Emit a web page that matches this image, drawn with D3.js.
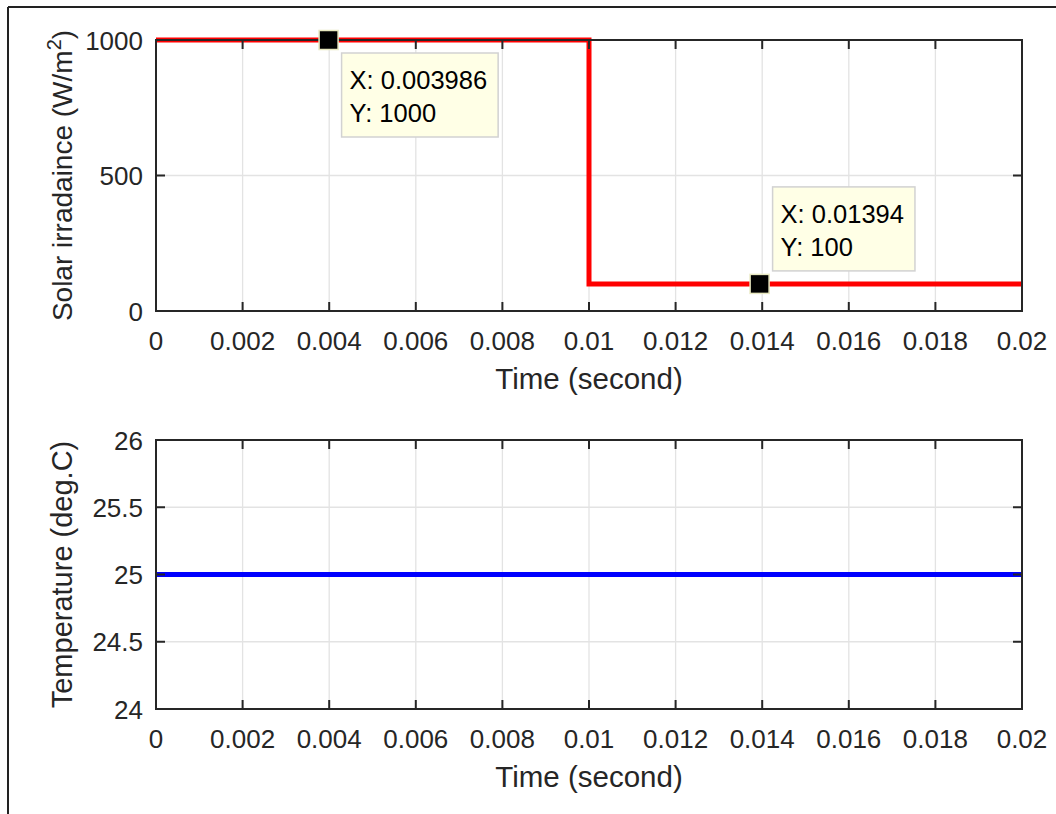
<!DOCTYPE html>
<html>
  <head>
    <meta charset="utf-8">
    <title>Irradiance and temperature</title>
    <script src="https://cdn.jsdelivr.net/npm/d3@7/dist/d3.min.js"></script>
    <style>
      body { margin: 0; background: #fff; }
      text { font-family: 'Liberation Sans', Arial, sans-serif; fill: #262626; }
    </style>
  </head>
  <body>
    <svg width="1056" height="814"></svg>
    <script>
      // data
      const timeTicks = [0, 0.002, 0.004, 0.006, 0.008, 0.01, 0.012, 0.014, 0.016, 0.018, 0.02];
      const irrTicks = [0, 500, 1000];
      const tempTicks = [24, 24.5, 25, 25.5, 26];
      const irrTime = [0, 0.01, 0.01, 0.02];
      const irrValue = [1000, 1000, 100, 100];
      const tempTime = [0, 0.02];
      const tempValue = [25, 25];
      const tipX = [0.003986, 0.01394];
      const tipY = [1000, 100];
      const tipLabelX = ['X: 0.003986', 'X: 0.01394'];
      const tipLabelY = ['Y: 1000', 'Y: 100'];

      const svg = d3.select('svg');

      // frame (cropped figure border)
      svg.append('line').attr('x1', 8).attr('x2', 1056).attr('y1', 7).attr('y2', 7)
        .attr('stroke', '#222').attr('stroke-width', 2);
      svg.append('line').attr('x1', 8).attr('x2', 8).attr('y1', 7).attr('y2', 814)
        .attr('stroke', '#222').attr('stroke-width', 2);

      const left = 156, right = 1022;
      const x = d3.scaleLinear().domain([0, 0.02]).range([left, right]);
      const fmt = v => String(+v.toFixed(4));

      function panel(top, bottom, yDomain, yTicks, opts) {
        const y = d3.scaleLinear().domain(yDomain).range([bottom, top]);
        const g = svg.append('g');

        // grid
        g.selectAll('.gx').data(timeTicks).enter().append('line')
          .attr('x1', d => x(d)).attr('x2', d => x(d))
          .attr('y1', top).attr('y2', bottom)
          .attr('stroke', '#e3e3e3').attr('stroke-width', 1.3);
        g.selectAll('.gy').data(yTicks).enter().append('line')
          .attr('x1', left).attr('x2', right)
          .attr('y1', d => y(d)).attr('y2', d => y(d))
          .attr('stroke', '#e3e3e3').attr('stroke-width', 1.3);

        // series
        const line = d3.line().x(d => x(d[0])).y(d => y(d[1]));
        g.append('path')
          .datum(opts.t.map((t, i) => [t, opts.v[i]]))
          .attr('d', line)
          .attr('fill', 'none')
          .attr('stroke', opts.color)
          .attr('stroke-width', 5);

        // ticks inward on all four sides
        const tl = 9;
        g.selectAll('.tb').data(timeTicks).enter().append('line')
          .attr('x1', d => x(d)).attr('x2', d => x(d))
          .attr('y1', bottom).attr('y2', bottom - tl)
          .attr('stroke', '#262626').attr('stroke-width', 2);
        g.selectAll('.tt').data(timeTicks).enter().append('line')
          .attr('x1', d => x(d)).attr('x2', d => x(d))
          .attr('y1', top).attr('y2', top + tl)
          .attr('stroke', '#262626').attr('stroke-width', 2);
        g.selectAll('.tlft').data(yTicks).enter().append('line')
          .attr('x1', left).attr('x2', left + tl)
          .attr('y1', d => y(d)).attr('y2', d => y(d))
          .attr('stroke', '#262626').attr('stroke-width', 2);
        g.selectAll('.trt').data(yTicks).enter().append('line')
          .attr('x1', right).attr('x2', right - tl)
          .attr('y1', d => y(d)).attr('y2', d => y(d))
          .attr('stroke', '#262626').attr('stroke-width', 2);

        // box
        g.append('rect')
          .attr('x', left).attr('y', top)
          .attr('width', right - left).attr('height', bottom - top)
          .attr('fill', 'none').attr('stroke', '#262626').attr('stroke-width', 2);

        // tick labels
        g.selectAll('.lx').data(timeTicks).enter().append('text')
          .attr('x', d => x(d)).attr('y', bottom + 39)
          .attr('text-anchor', 'middle')
          .style('font-size', '26px')
          .text(fmt);
        g.selectAll('.ly').data(yTicks).enter().append('text')
          .attr('x', left - 13).attr('y', d => y(d) + 9.5)
          .attr('text-anchor', 'end')
          .style('font-size', '26px')
          .text(d => d);

        // axis titles
        g.append('text')
          .attr('x', (left + right) / 2).attr('y', bottom + 78)
          .attr('text-anchor', 'middle')
          .style('font-size', '29.5px')
          .text('Time (second)');
        const yl = g.append('text')
          .attr('transform', `translate(72,${(top + bottom) / 2}) rotate(-90)`)
          .attr('text-anchor', 'middle')
          .style('font-size', opts.ysize);
        opts.ylabel(yl);
        return y;
      }

      const yIrr = panel(40, 311, [0, 1000], irrTicks, {
        t: irrTime, v: irrValue, color: '#ff0000', ysize: '28px',
        ylabel: t => {
          t.append('tspan').text('Solar irradaince (W/m');
          t.append('tspan').attr('dy', -11).style('font-size', '20px').text('2');
          t.append('tspan').attr('dy', 11).text(')');
        }
      });
      panel(440, 709, [24, 26], tempTicks, {
        t: tempTime, v: tempValue, color: '#0000ff', ysize: '29px',
        ylabel: t => t.text('Temperature (deg.C)')
      });

      // data tips
      const place = ['below', 'above'];
      tipX.forEach((tx, i) => {
        const cx = x(tx), cy = yIrr(tipY[i]);
        const g = svg.append('g');
        const bx = cx + 13;
        const by = place[i] === 'below' ? cy + 13 : cy - 13 - 84;
        const box = g.append('rect')
          .attr('x', bx).attr('y', by).attr('height', 84)
          .attr('fill', '#ffffe6').attr('stroke', '#d2d2d2').attr('stroke-width', 1.5);
        const t1 = g.append('text').attr('x', bx + 8).attr('y', by + 36)
          .style('font-size', '25.5px').style('fill', '#000').text(tipLabelX[i]);
        const t2 = g.append('text').attr('x', bx + 8).attr('y', by + 69)
          .style('font-size', '25.5px').style('fill', '#000').text(tipLabelY[i]);
        const w = Math.max(t1.node().getBBox().width, t2.node().getBBox().width);
        box.attr('width', w + 19);
        g.append('rect')
          .attr('x', cx - 9.5).attr('y', cy - 9.5)
          .attr('width', 19).attr('height', 19)
          .attr('fill', '#000').attr('stroke', '#e8e8c0').attr('stroke-width', 1.5);
      });
    </script>
  </body>
</html>
